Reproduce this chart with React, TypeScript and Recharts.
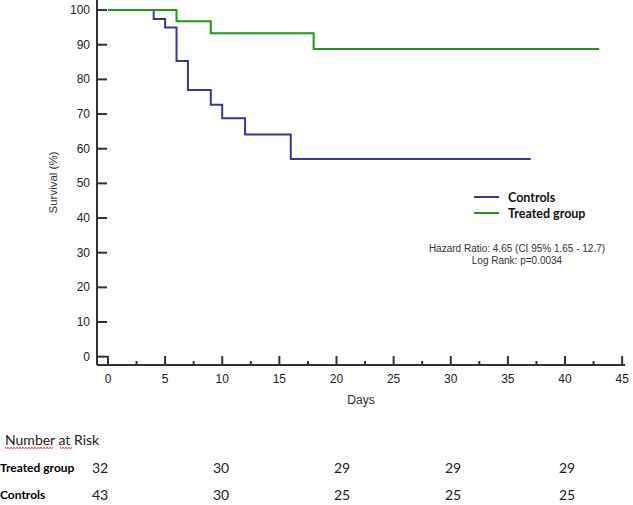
import { Legend, Line, LineChart, XAxis, YAxis } from 'recharts';

// Kaplan-Meier steps (day of drop, survival % after it)
const controlsDays = [0, 4, 5, 6, 7, 9, 10, 12, 16, 37];
const controlsSurvival = [100, 97.4, 95.0, 85.3, 76.9, 72.7, 68.8, 64.1, 57.0, 57.0];
const treatedDays = [0, 6, 9, 18, 43];
const treatedSurvival = [100, 96.8, 93.3, 88.8, 88.8];

const xTicks = [0, 2.5, 5, 7.5, 10, 12.5, 15, 17.5, 20, 22.5, 25, 27.5, 30, 32.5, 35, 37.5, 40, 42.5, 45];
const yTicks = [0, 10, 20, 30, 40, 50, 60, 70, 80, 90, 100];

// number at risk table
const riskGroups = ['Treated group', 'Controls'];
const riskTreated = [32, 30, 29, 29, 29];
const riskControls = [43, 30, 25, 25, 25];

const hazardText = 'Hazard Ratio: 4.65 (CI 95% 1.65 - 12.7)';
const logRankText = 'Log Rank: p=0.0034';

const controlsData = controlsDays.map((day, i) => ({ day, survival: controlsSurvival[i] }));
const treatedData = treatedDays.map((day, i) => ({ day, survival: treatedSurvival[i] }));

const AXIS = '#333';
const BLUE = '#3535a8';
const GREEN = '#1f961f';
const riskX = [92, 213, 334, 445, 559];

function XTick({ x, y, payload }: any) {
  const major = payload.value % 5 === 0;
  return (
    <g>
      <line x1={x} x2={x} y1={y} y2={y - (major ? 9 : 4)} stroke={AXIS} strokeWidth={2} />
      {major && (
        <text x={x} y={y + 14} textAnchor='middle' dominantBaseline='central' fontSize={12} fill='#222'>
          {payload.value}
        </text>
      )}
    </g>
  );
}

function YTick({ x, y, payload }: any) {
  return (
    <g>
      <line x1={x} x2={x + 10} y1={y} y2={y} stroke={AXIS} strokeWidth={2} />
      <text x={x - 7} y={y} textAnchor='end' dominantBaseline='central' fontSize={12} fill='#222'>
        {payload.value}
      </text>
    </g>
  );
}

function YLabel({ viewBox }: any) {
  const cy = viewBox.y + viewBox.height / 2;
  return (
    <text x={53} y={cy} transform={`rotate(-90, 53, ${cy})`} textAnchor='middle' dominantBaseline='central' fontSize={11.5} fill='#333'>
      Survival (%)
    </text>
  );
}

function LegendBox({ payload }: any) {
  return (
    <div>
      {(payload || []).map((entry: any) => (
        <div key={entry.value} style={{ display: 'flex', alignItems: 'center', height: 16 }}>
          <div style={{ width: 25, height: 2, background: entry.color, marginRight: 9 }} />
          <span style={{ fontFamily: 'Lato', fontWeight: 700, fontSize: 12.5, color: '#111' }}>{entry.value}</span>
        </div>
      ))}
    </div>
  );
}

function squiggle(x0: number, x1: number, y: number) {
  const pts: string[] = [];
  for (let x = x0, k = 0; x <= x1; x += 1.5, k++) {
    pts.push(`${x},${y + (k % 2 ? 1 : -1)}`);
  }
  return pts.join(' ');
}

export default function App() {
  return (
    <div style={{ position: 'absolute', left: 0, top: 0, width: 633, height: 505, background: '#fff', fontFamily: '"Liberation Sans", Arial, sans-serif' }}>
      <LineChart width={633} height={410} margin={{ top: 0, right: 8, bottom: 0, left: 0 }}>
        <XAxis
          type='number'
          dataKey='day'
          domain={[-0.96, 45.25]}
          allowDataOverflow
          ticks={xTicks}
          interval={0}
          height={45}
          axisLine={{ stroke: AXIS, strokeWidth: 2 }}
          tickLine={false}
          tickSize={0}
          tickMargin={0}
          tick={<XTick />}
          label={{ value: 'Days', position: 'insideBottom', offset: 6, fontSize: 12, fill: '#333' }}
        />
        <YAxis
          type='number'
          domain={[-2.4, 102.9]}
          allowDataOverflow
          ticks={yTicks}
          interval={0}
          width={97}
          axisLine={{ stroke: AXIS, strokeWidth: 2 }}
          tickLine={false}
          tickSize={0}
          tickMargin={0}
          tick={<YTick />}
          label={{ content: <YLabel /> }}
        />
        <Legend
          layout='vertical'
          align='center'
          verticalAlign='middle'
          content={<LegendBox />}
          wrapperStyle={{ position: 'absolute', left: 474, top: 189, width: 150 }}
        />
        <Line
          data={controlsData}
          dataKey='survival'
          name='Controls'
          type='stepAfter'
          stroke={BLUE}
          strokeWidth={2}
          dot={false}
          isAnimationActive={false}
        />
        <Line
          data={treatedData}
          dataKey='survival'
          name='Treated group'
          type='stepAfter'
          stroke={GREEN}
          strokeWidth={2}
          dot={false}
          isAnimationActive={false}
        />
      </LineChart>

      <svg width={633} height={505} style={{ position: 'absolute', left: 0, top: 0, pointerEvents: 'none' }}>
        <text x={517} y={248} textAnchor='middle' dominantBaseline='central' fontSize={10} fill='#333'>
          {hazardText}
        </text>
        <text x={517} y={260} textAnchor='middle' dominantBaseline='central' fontSize={10} fill='#333'>
          {logRankText}
        </text>

        <g fontFamily='Lato' fill='#222'>
          <text x={5} y={439} dominantBaseline='central' fontSize={14}>Number at Risk</text>
          <polyline points={squiggle(5, 54, 448)} fill='none' stroke='#e03030' strokeWidth={0.8} />
          <polyline points={squiggle(60, 72, 448)} fill='none' stroke='#e03030' strokeWidth={0.8} />
          <text x={0} y={467} dominantBaseline='central' fontSize={12} fontWeight={700} fill='#000'>{riskGroups[0]}</text>
          <text x={0} y={494} dominantBaseline='central' fontSize={12} fontWeight={700} fill='#000'>{riskGroups[1]}</text>
          {riskTreated.map((v, i) => (
            <text key={`t${i}`} x={riskX[i]} y={467} dominantBaseline='central' fontSize={14}>{v}</text>
          ))}
          {riskControls.map((v, i) => (
            <text key={`c${i}`} x={riskX[i]} y={494} dominantBaseline='central' fontSize={14}>{v}</text>
          ))}
        </g>
      </svg>
    </div>
  );
}
